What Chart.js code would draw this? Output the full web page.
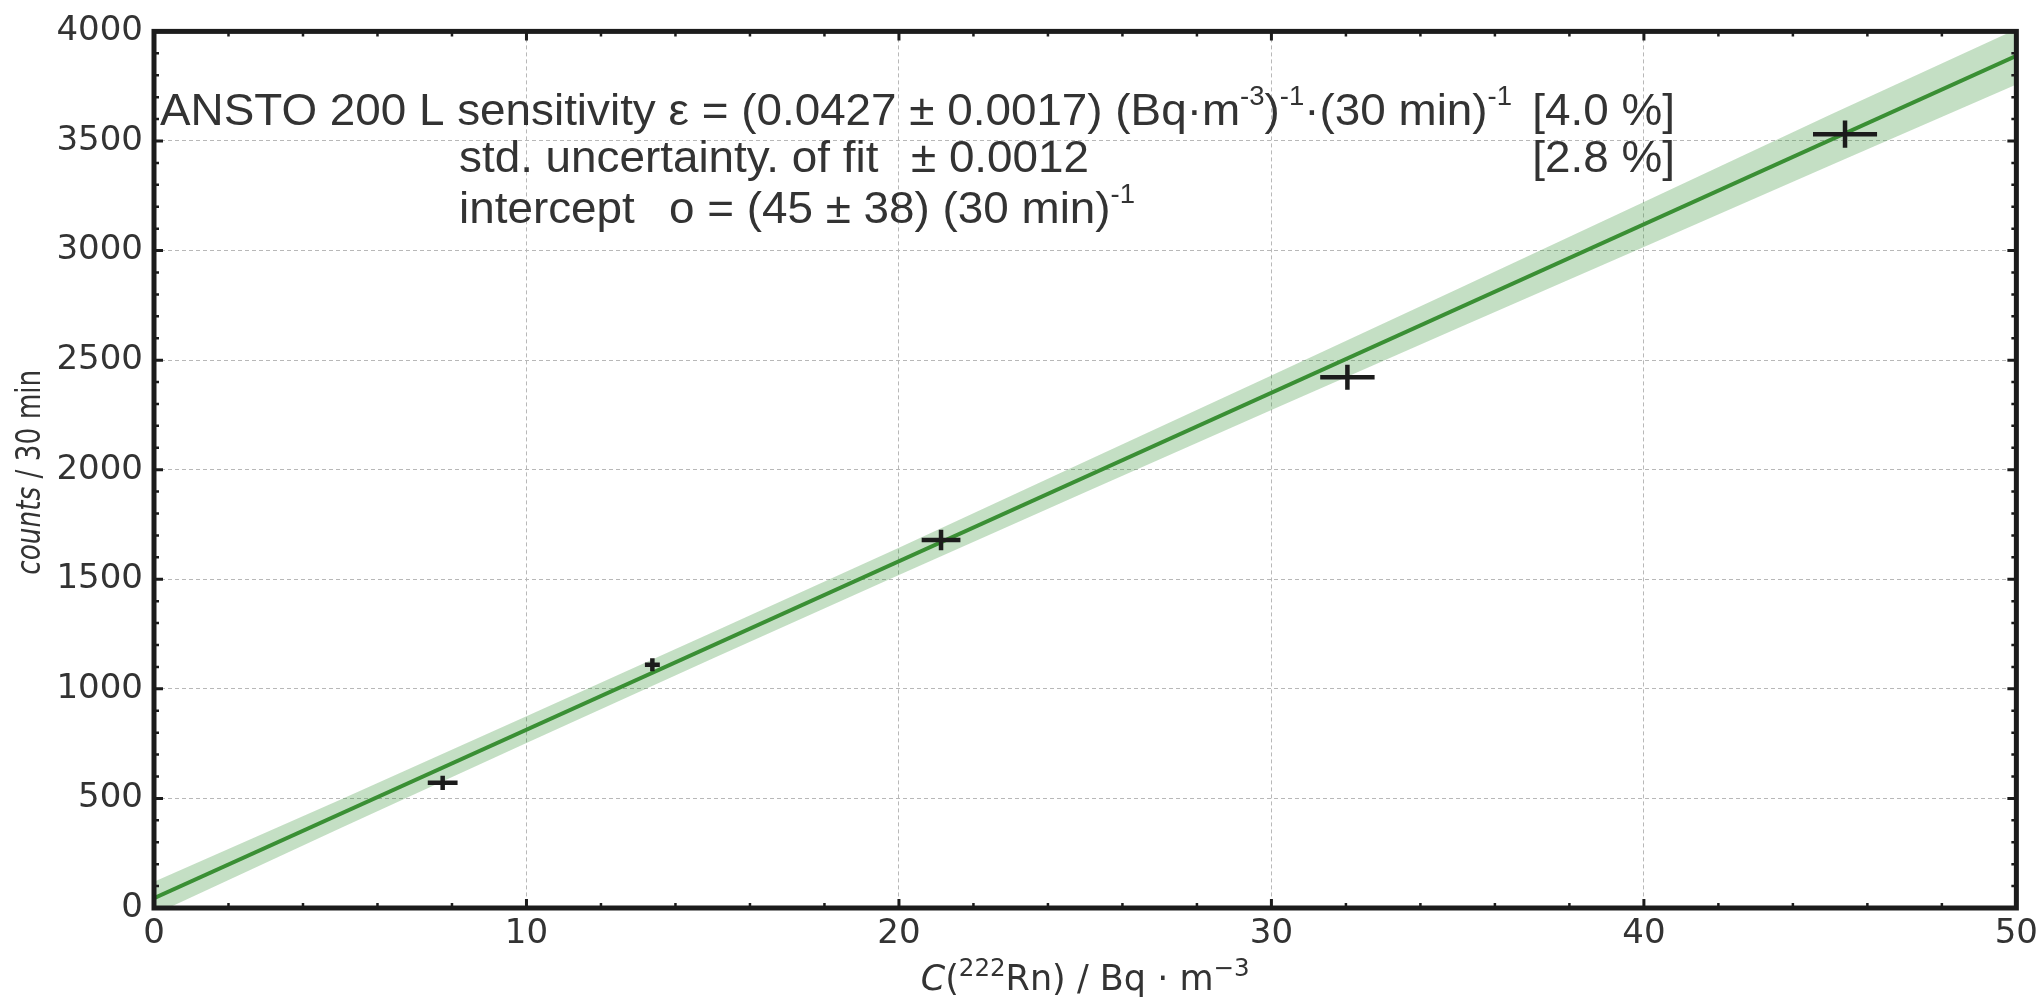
<!DOCTYPE html>
<html>
<head>
<meta charset="utf-8">
<script src="https://cdn.jsdelivr.net/npm/chart.js@4"></script>
<style>
  html, body { margin: 0; padding: 0; background: #fff; }
  canvas { display: block; }
</style>
</head>
<body>
<canvas id="chart" width="2044" height="998"></canvas>
<script>
// Calibration points: radon concentration vs counts per 30 min
const concX = [7.75, 13.38, 21.13, 32.04, 45.4];
const countsY = [571, 1110, 1679, 2422, 3531];
const concErr = [0.4, 0.2, 0.52, 0.73, 0.86];
const countsErr = [32, 30, 47, 57, 62];

// Linear fit and its uncertainty band
const fitX = [0, 50];
const fitY = [45, 3888];
const bandX = [0, 5, 10, 15, 20, 25, 30, 35, 40, 45, 50];
const bandUpper = [120, 494, 875, 1258, 1644, 2037, 2430, 2825, 3222, 3620, 4010];
const bandLower = [-30, 364, 753, 1138, 1520, 1897, 2272, 2645, 3016, 3388, 3758];

// Axis ticks
const xTicks = [0, 10, 20, 30, 40, 50];
const yTicks = [0, 500, 1000, 1500, 2000, 2500, 3000, 3500, 4000];
const xMinorStep = 2;
const yMinorStep = 100;

const pts = (xs, ys) => xs.map((x, i) => ({ x: x, y: ys[i] }));

const textColor = '#333';
const frameColor = '#1c1c1c';
const annoFont = '"Liberation Sans", Arial, sans-serif';
const axisFont = '"DejaVu Sans", sans-serif';

// draws a run of text pieces (normal / italic / superscript)
function richWidth(ctx, segs, size, family, supScale) {
    let w = 0;
    for (const s of segs) {
        const fs = s.sup ? size * supScale : size;
        ctx.font = (s.it ? 'italic ' : '') + fs + 'px ' + family;
        w += ctx.measureText(s.t).width;
    }
    return w;
}
function drawRich(ctx, x, y, segs, size, family, sx, raise, supScale) {
    ctx.save();
    ctx.translate(x, y);
    ctx.scale(sx, 1);
    let cx = 0;
    for (const s of segs) {
        const fs = s.sup ? size * supScale : size;
        ctx.font = (s.it ? 'italic ' : '') + fs + 'px ' + family;
        ctx.fillText(s.t, cx, s.sup ? -size * raise : 0);
        cx += ctx.measureText(s.t).width;
    }
    ctx.restore();
}

const overlay = {
    id: 'overlay',
    afterDatasetsDraw(chart) {
        const ctx = chart.ctx, xs = chart.scales.x, ys = chart.scales.y;
        ctx.save();
        ctx.strokeStyle = frameColor;
        ctx.lineWidth = 4.5;
        ctx.lineCap = 'butt';
        for (let i = 0; i < concX.length; i++) {
            const px = xs.getPixelForValue(concX[i]), py = ys.getPixelForValue(countsY[i]);
            ctx.beginPath();
            ctx.moveTo(xs.getPixelForValue(concX[i] - concErr[i]), py);
            ctx.lineTo(xs.getPixelForValue(concX[i] + concErr[i]), py);
            ctx.moveTo(px, ys.getPixelForValue(countsY[i] - countsErr[i]));
            ctx.lineTo(px, ys.getPixelForValue(countsY[i] + countsErr[i]));
            ctx.stroke();
        }
        ctx.restore();
    },
    afterDraw(chart) {
        const ctx = chart.ctx, xs = chart.scales.x, ys = chart.scales.y, a = chart.chartArea;
        ctx.save();
        // inward ticks on all four sides
        ctx.strokeStyle = frameColor;
        for (let v = 0; v <= 50; v += xMinorStep) {
            const major = v % 10 === 0, len = major ? 9 : 5;
            const px = xs.getPixelForValue(v);
            ctx.lineWidth = major ? 3 : 2.5;
            ctx.beginPath();
            ctx.moveTo(px, a.bottom); ctx.lineTo(px, a.bottom - len);
            ctx.moveTo(px, a.top); ctx.lineTo(px, a.top + len);
            ctx.stroke();
        }
        for (let v = 0; v <= 4000; v += yMinorStep) {
            const major = v % 500 === 0, len = major ? 9 : 5;
            const py = ys.getPixelForValue(v);
            ctx.lineWidth = major ? 3 : 2.5;
            ctx.beginPath();
            ctx.moveTo(a.left, py); ctx.lineTo(a.left + len, py);
            ctx.moveTo(a.right, py); ctx.lineTo(a.right - len, py);
            ctx.stroke();
        }
        // frame
        ctx.lineWidth = 5;
        ctx.strokeRect(a.left, a.top, a.right - a.left, a.bottom - a.top);

        // annotation block
        ctx.fillStyle = textColor;
        ctx.textBaseline = 'alphabetic';
        const fs = 45, ss = 0.6, rs = 0.45;
        const line1 = [
            { t: 'ANSTO 200 L sensitivity \u03b5 = (0.0427 \u00b1 0.0017) (Bq\u00b7m' },
            { t: '-3', sup: true }, { t: ')' }, { t: '-1', sup: true },
            { t: '\u00b7(30 min)' }, { t: '-1', sup: true }
        ];
        const sx = 1352 / richWidth(ctx, line1, fs, annoFont, ss);
        drawRich(ctx, 160, 125, line1, fs, annoFont, sx, rs, ss);
        const right1 = [{ t: '[4.0 %]' }];
        drawRich(ctx, 1675 - richWidth(ctx, right1, fs, annoFont, ss) * sx, 125, right1, fs, annoFont, sx, rs, ss);
        drawRich(ctx, 459, 172, [{ t: 'std. uncertainty. of fit' }], fs, annoFont, sx, rs, ss);
        drawRich(ctx, 911, 172, [{ t: '\u00b1 0.0012' }], fs, annoFont, sx, rs, ss);
        const right2 = [{ t: '[2.8 %]' }];
        drawRich(ctx, 1675 - richWidth(ctx, right2, fs, annoFont, ss) * sx, 172, right2, fs, annoFont, sx, rs, ss);
        drawRich(ctx, 459, 223, [{ t: 'intercept' }], fs, annoFont, sx, rs, ss);
        drawRich(ctx, 669, 223, [{ t: 'o = (45 \u00b1 38) (30 min)' }, { t: '-1', sup: true }], fs, annoFont, sx, rs, ss);

        // axis titles
        const xTitle = [
            { t: 'C', it: true }, { t: '(' }, { t: '222', sup: true },
            { t: 'Rn) / Bq \u00b7 m' }, { t: '\u22123', sup: true }
        ];
        const xw = richWidth(ctx, xTitle, 35, axisFont, 0.7);
        drawRich(ctx, (a.left + a.right) / 2 - xw / 2, 990, xTitle, 35, axisFont, 1, 0.4, 0.7);

        const yTitle = [{ t: 'counts', it: true }, { t: ' / 30 min' }];
        const yfs = 34;
        const yw = richWidth(ctx, yTitle, yfs, axisFont, 0.7);
        const ysx = 205 / yw;
        ctx.translate(40, (a.top + a.bottom) / 2 + 3);
        ctx.rotate(-Math.PI / 2);
        drawRich(ctx, -102, 0, yTitle, yfs, axisFont, ysx, 0.4, 0.7);
        ctx.restore();
    }
};

new Chart(document.getElementById('chart'), {
    type: 'scatter',
    data: {
        datasets: [
            {
                label: 'band lower',
                type: 'line',
                data: pts(bandX, bandLower),
                borderWidth: 0,
                pointRadius: 0,
                fill: false,
                order: 3
            },
            {
                label: 'band upper',
                type: 'line',
                data: pts(bandX, bandUpper),
                borderWidth: 0,
                pointRadius: 0,
                backgroundColor: 'rgba(60, 150, 60, 0.3)',
                fill: '-1',
                order: 2
            },
            {
                label: 'fit',
                type: 'line',
                data: pts(fitX, fitY),
                borderColor: '#3a8f34',
                borderWidth: 4,
                pointRadius: 0,
                fill: false,
                order: 1
            },
            {
                label: 'measurements',
                data: pts(concX, countsY),
                pointRadius: 0,
                order: 0
            }
        ]
    },
    options: {
        responsive: false,
        animation: false,
        devicePixelRatio: 1,
        layout: { padding: { top: 26, right: 26, left: 0, bottom: 0 } },
        plugins: {
            legend: { display: false },
            tooltip: { enabled: false }
        },
        scales: {
            x: {
                type: 'linear',
                min: 0,
                max: 50,
                afterBuildTicks: s => { s.ticks = xTicks.map(v => ({ value: v })); },
                afterFit: s => { s.height = 90; },
                ticks: { color: textColor, font: { family: 'DejaVu Sans', size: 34 }, padding: 6, maxRotation: 0, callback: v => String(v) },
                grid: { color: '#b8b8b8', lineWidth: 1, drawTicks: false },
                border: { display: false, dash: [4, 3] }
            },
            y: {
                type: 'linear',
                min: 0,
                max: 4000,
                afterBuildTicks: s => { s.ticks = yTicks.map(v => ({ value: v })); },
                afterFit: s => { s.width = 154; },
                ticks: { color: textColor, font: { family: 'DejaVu Sans', size: 34 }, padding: 11, callback: v => String(v) },
                grid: { color: '#b8b8b8', lineWidth: 1, drawTicks: false },
                border: { display: false, dash: [4, 3] }
            }
        }
    },
    plugins: [overlay]
});
</script>
</body>
</html>
